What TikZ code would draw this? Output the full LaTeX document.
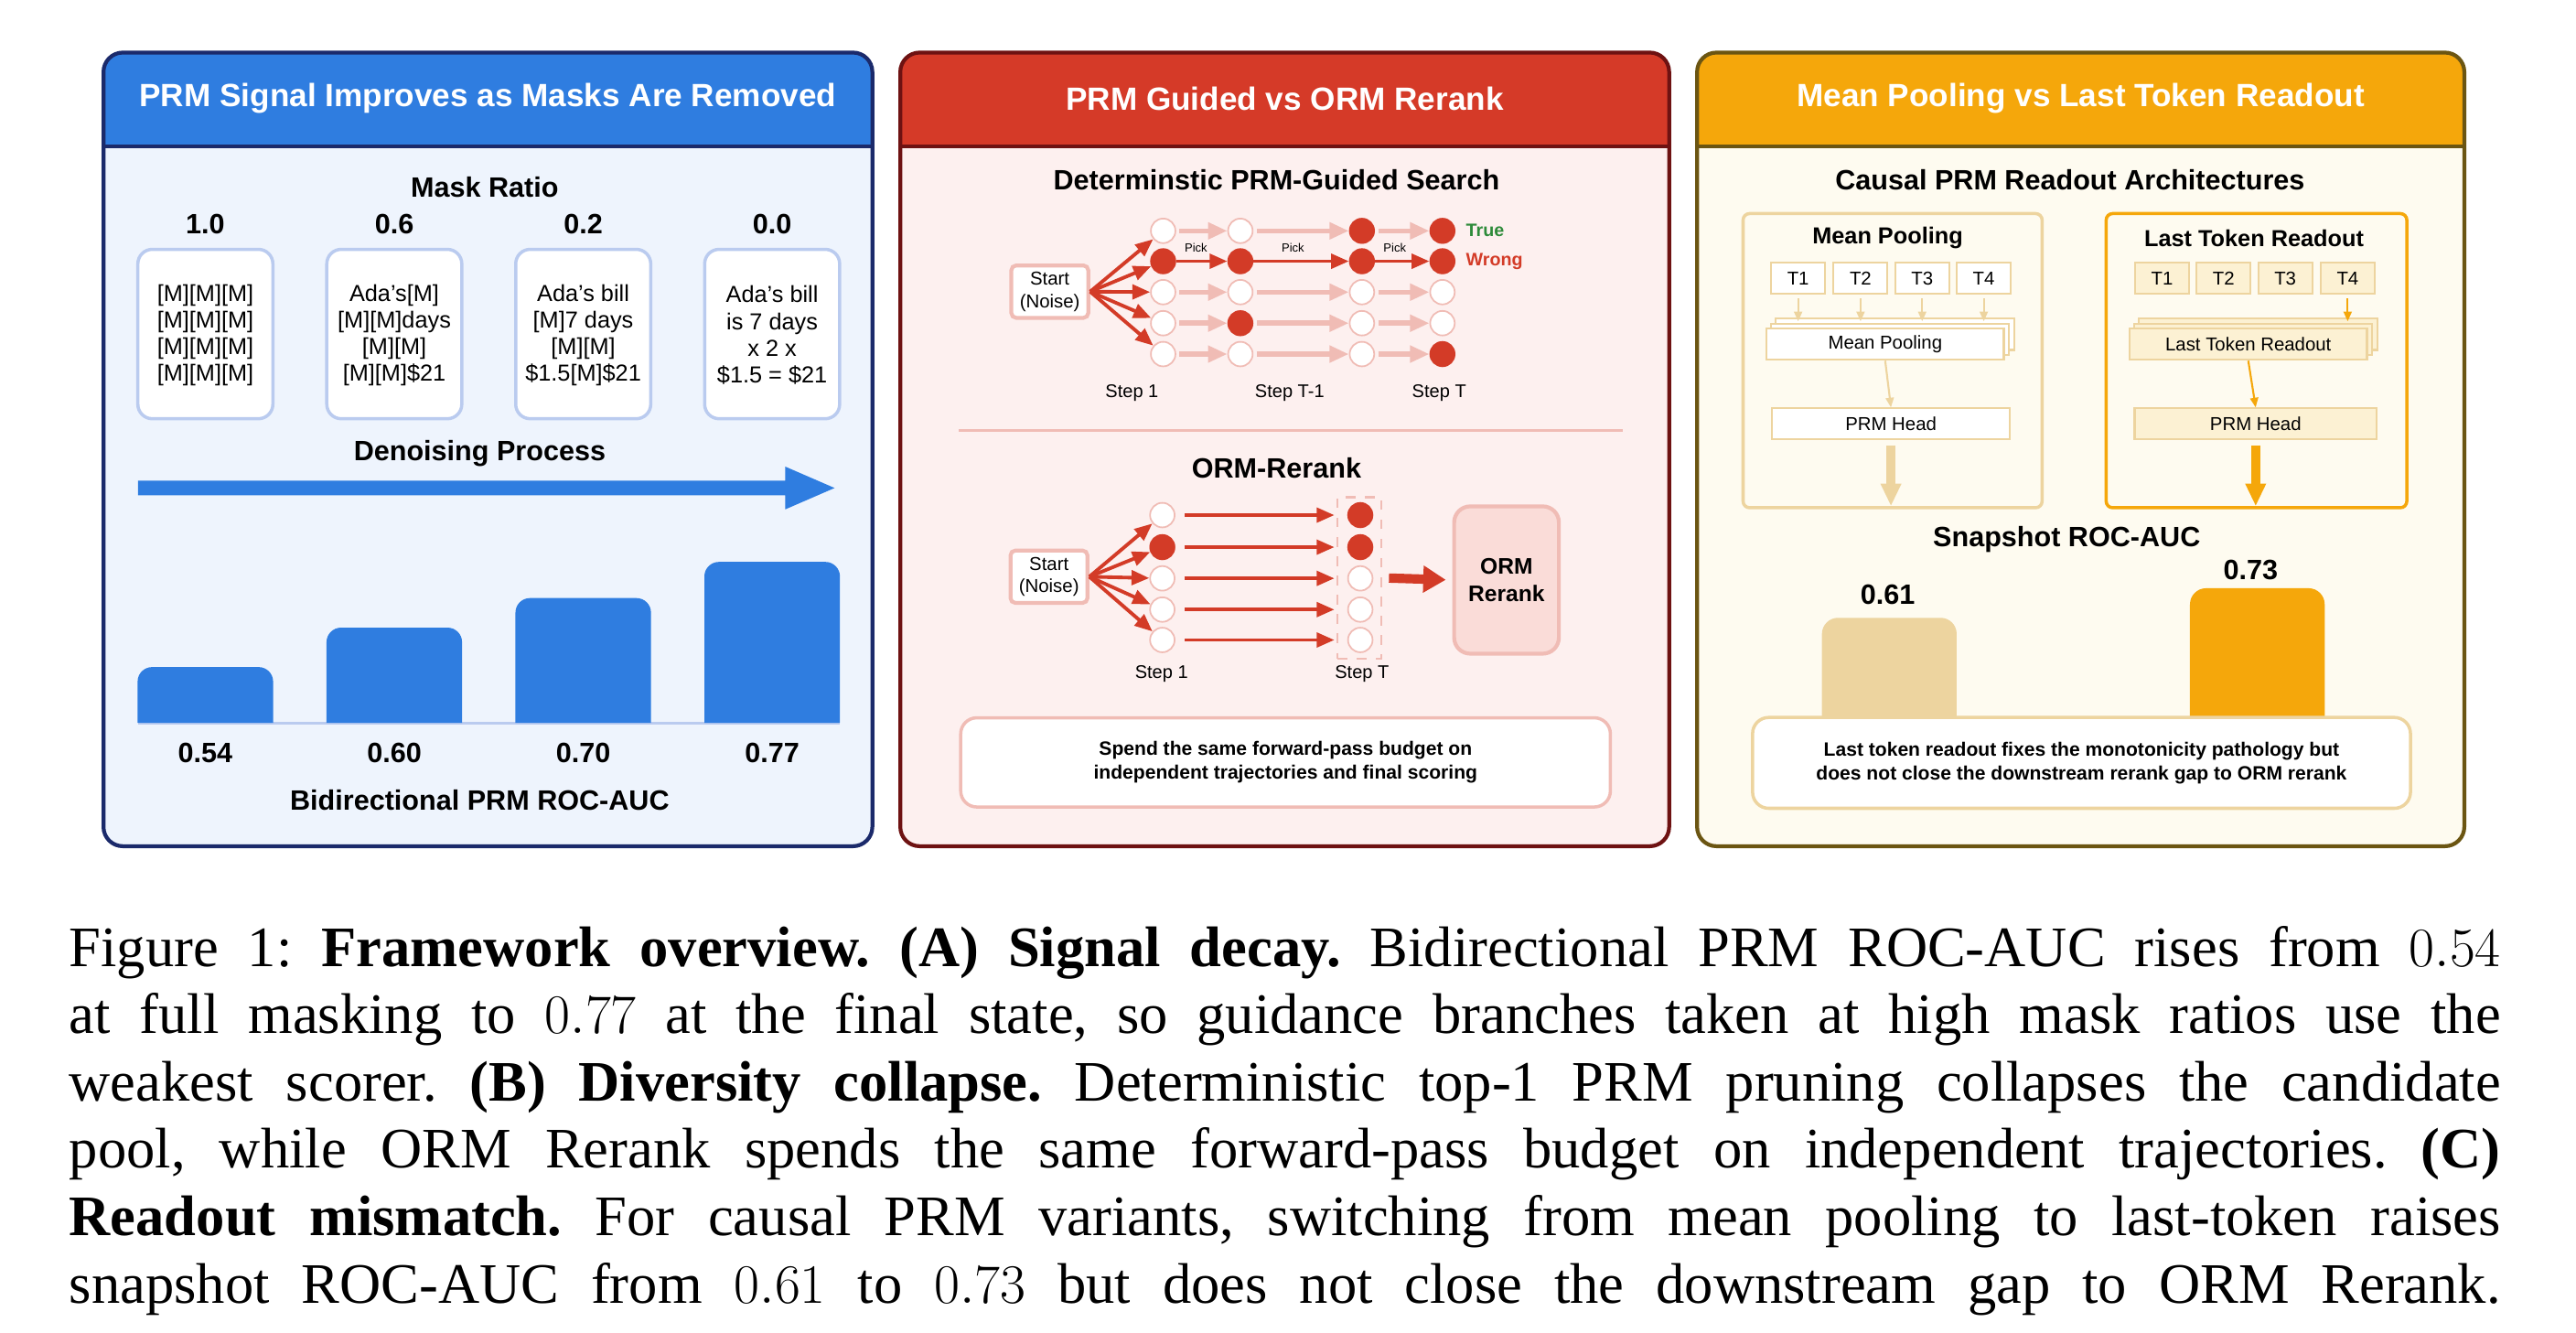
\documentclass[tikz,border=0pt]{standalone}
\usepackage{fontspec}
\setmainfont{Liberation Serif}
\newfontfamily\ar{Liberation Sans}
\usetikzlibrary{arrows.meta}
\definecolor{blueH}{HTML}{2F7DE0}
\definecolor{blueB}{HTML}{EEF4FD}
\definecolor{blueR}{HTML}{1B2A6B}
\definecolor{blueL}{HTML}{BACBEF}
\definecolor{redH}{HTML}{D53A28}
\definecolor{redB}{HTML}{FDF0EF}
\definecolor{redR}{HTML}{6E1212}
\definecolor{pinkL}{HTML}{F0BCB5}
\definecolor{redD}{HTML}{D33B27}
\definecolor{pinkF}{HTML}{FADCD8}
\definecolor{orH}{HTML}{F5A70B}
\definecolor{orB}{HTML}{FEFBF0}
\definecolor{orR}{HTML}{6B5512}
\definecolor{tan}{HTML}{EDD49F}
\definecolor{orF}{HTML}{FCF1D3}
\definecolor{grn}{HTML}{2E8B3A}
\newcommand\mkfont[3]{\ar#1\fontsize{#2}{#3}\selectfont}
\tikzset{
  ttl/.style={text=white,font=\mkfont{\bfseries}{10}{12}},
  sub/.style={font=\mkfont{\bfseries}{8.7}{10.5}},
  boxtxt/.style={align=center,font=\mkfont{}{7.2}{8.3}},
  mbox/.style={draw=blueL,line width=1pt,fill=white,rounded corners=4.5pt,minimum width=82.5*0.509pt,minimum height=103.5*0.509pt,inner sep=0},
  sm/.style={font=\mkfont{}{5.7}{6.8}},
  pick/.style={font=\mkfont{}{3.7}{4.4}},
  dot/.style={circle,minimum size=15*0.509pt,inner sep=0,line width=0.5pt,draw=pinkL,fill=white},
  fdot/.style={circle,minimum size=15*0.509pt,inner sep=0,draw=redD,fill=redD},
  startb/.style={draw=pinkL,fill=white,line width=1.2pt,rounded corners=1.5pt,minimum width=47*0.509pt,minimum height=32*0.509pt,inner sep=0,align=center,font=\mkfont{}{5.8}{7}},
  darr/.style={draw=redD,line width=1.1pt,-{Triangle[length=5.5pt,width=4.5pt]}},
  larr/.style={draw=pinkL,line width=1.6pt,-{Triangle[length=6pt,width=5pt]}},
  note/.style={draw=#1,fill=white,line width=1pt,rounded corners=5pt,minimum width=397*0.509pt,minimum height=54.5*0.509pt,inner sep=0,align=center,font=\mkfont{\bfseries}{6}{7.5}},
  tok/.style={draw=tan,line width=0.6pt,minimum width=33*0.509pt,minimum height=19*0.509pt,inner sep=0,font=\mkfont{}{5.8}{7}},
  wbox/.style={draw=tan,line width=0.6pt,minimum height=19*0.509pt,inner sep=0,font=\mkfont{}{5.8}{7}},
  tarr/.style={draw=tan,line width=0.6pt,-{Triangle[length=3pt,width=2.5pt]}},
  oarr/.style={draw=orH,line width=0.6pt,-{Triangle[length=3pt,width=2.5pt]}},
}
\newcommand\panel[7]{%
  \fill[#4,rounded corners=6pt] (#1,32) rectangle (#2,515);
  \fill[#3] (#1,89) [rounded corners=6pt]-- (#1,32) -- (#2,32) [sharp corners]-- (#2,89) -- cycle;
  \draw[#5,line width=1.2pt] (#1,89) -- (#2,89);
  \draw[#5,line width=1.2pt,rounded corners=6pt] (#1,32) rectangle (#2,515);
  \node[ttl] (#7) at ({(#1+#2)/2},60) {#6};}
\begin{document}
\begin{tikzpicture}[x=0.01796cm,y=-0.01796cm]
\useasboundingbox[fill=white] (0,0) rectangle (1568,811);
%% ---------- Panel A
\panel{63}{531}{blueH}{blueB}{blueR}{PRM Signal Improves as Masks Are Removed}{tA}
\node[sub] (mr) at (295,114) {Mask Ratio};
\foreach \x/\v [count=\i] in {125/1.0,240/0.6,355/0.2,470/0.0}{
  \node[sub] (r\i) at (\x,136.5) {\v};
  \node[mbox] (b\i) at (\x,203.3) {};
}
\node[boxtxt] (bt1) at (125,204) {{[}M{]}{[}M{]}{[}M{]}\\{[}M{]}{[}M{]}{[}M{]}\\{[}M{]}{[}M{]}{[}M{]}\\{[}M{]}{[}M{]}{[}M{]}};
\node[boxtxt] (bt2) at (240,204) {Ada’s{[}M{]}\\{[}M{]}{[}M{]}days\\{[}M{]}{[}M{]}\\{[}M{]}{[}M{]}\$21};
\node[boxtxt] (bt3) at (355,204) {Ada’s bill\\{[}M{]}7 days\\{[}M{]}{[}M{]}\\\$1.5{[}M{]}\$21};
\node[boxtxt] (bt4) at (470,204) {Ada’s bill\\is 7 days\\x 2 x\\\$1.5 = \$21};
\node[sub] (dp) at (292,276) {Denoising Process};
\fill[blueH] (84,292.5) -- (478,292.5) -- (478,284) -- (508,297) -- (478,310) -- (478,301.5) -- (84,301.5) -- cycle;
\draw[blueL,line width=0.8pt] (84,440) -- (511,440);
\foreach \x/\top/\v [count=\i] in {125/406/0.54,240/382/0.60,355/364/0.70,470/342/0.77}{
  \fill[blueH] (\x-41.25,440) [rounded corners=4.5pt]-- (\x-41.25,\top) -- (\x+41.25,\top) [sharp corners]-- (\x+41.25,440) -- cycle;
  \node[sub] (v\i) at (\x,458) {\v};
}
\node[sub] (xa) at (292,487) {Bidirectional PRM ROC-AUC};
%% ---------- Panel B
\panel{548}{1016}{redH}{redB}{redR}{PRM Guided vs ORM Rerank}{tB}
\node[sub] (sb1) at (777,109.5) {Determinstic PRM-Guided Search};
\node[startb] (s1) at (639,177.5) {Start\\(Noise)};
\foreach \r/\y in {1/140.5,2/159,3/177.8,4/196.7,5/215.5}{
  \foreach \c/\x in {1/708,2/755,3/829,4/878}{
    \node[dot] (g\r\c) at (\x,\y) {};
  }
}
\foreach \n in {g21,g22,g42,g13,g23,g14,g24,g54}{\node[fdot] at (\n) {};}
\foreach \r in {1,...,5}{\draw[darr] (s1.east) -- (g\r1);}
\foreach \r in {1,3,4,5}{
  \draw[larr,shorten <=1pt] (g\r1) -- (g\r2);
  \draw[larr,shorten <=1pt] (g\r2) -- (g\r3);
  \draw[larr,shorten <=1pt] (g\r3) -- (g\r4);
}
\draw[darr] (g21) -- (g22);
\draw[darr] (g22) -- (g23);
\draw[darr] (g23) -- (g24);
\node[pick] (p1) at (728,151) {Pick};
\node[pick] (p2) at (787,151) {Pick};
\node[pick] (p3) at (849,151) {Pick};
\node[anchor=west,inner sep=0,text=grn,font=\mkfont{\bfseries}{5.6}{6.7}] (tr) at (892,140.5) {True};
\node[anchor=west,inner sep=0,text=redD,font=\mkfont{\bfseries}{5.6}{6.7}] (wr) at (892,159) {Wrong};
\node[sm] (st1) at (689,239) {Step 1};
\node[sm] (st2) at (785,239) {Step T-1};
\node[sm] (st3) at (876,239) {Step T};
\coordinate (sepL) at (583.5,262);
\coordinate (sepR) at (988,262);
\draw[pinkL,line width=0.8pt] (sepL) -- (sepR);
\node[sub] (sb2) at (777,285) {ORM-Rerank};
\node[startb] (s2) at (638.5,351) {Start\\(Noise)};
\foreach \r/\y in {1/313.5,2/333,3/352,4/371,5/389.5}{
  \node[dot] (o\r1) at (707.5,\y) {};
  \node[dot] (o\r2) at (828,\y) {};
  \draw[darr] (s2.east) -- (o\r1);
  \draw[darr,shorten <=3pt,shorten >=4pt] (o\r1) -- (o\r2);
}
\node[fdot] at (o21) {};
\node[fdot] at (o12) {};
\node[fdot] at (o22) {};
\node[draw=pinkL,dashed,line width=0.6pt,minimum width=27*0.509pt,minimum height=98.5*0.509pt,inner sep=0] (dbox) at (827.5,351.7) {};
\node[draw=pinkL,fill=pinkF,line width=1.2pt,rounded corners=5pt,minimum width=64*0.509pt,minimum height=90*0.509pt,inner sep=0,align=center,font=\mkfont{\bfseries}{7}{8.4}] (orm) at (917,353) {ORM\\Rerank};
\draw[redD,line width=2.9pt,-{Triangle[length=7pt,width=8pt]},shorten <=2pt,shorten >=2pt] (dbox.east) -- (orm.west);
\node[sm] (st4) at (707,410) {Step 1};
\node[sm] (st5) at (829,410) {Step T};
\node[note=pinkL] (nb) at (782.5,464) {Spend the same forward-pass budget on\\independent trajectories and final scoring};
%% ---------- Panel C
\panel{1033}{1500}{orH}{orB}{orR}{Mean Pooling vs Last Token Readout}{tC}
\node[sub] (sc1) at (1260,109.5) {Causal PRM Readout Architectures};
\draw[tan,line width=1pt,rounded corners=2pt] (1061,130) rectangle (1243,309);
\node[font=\mkfont{\bfseries}{7.2}{8.6}] (mpt) at (1149,145) {Mean Pooling};
\foreach \x [count=\i] in {1094.5,1132.5,1170,1207.5}{
  \node[tok,fill=white] (m\i) at (\x,169.5) {T\i};
}
\fill[white] (1081,194) rectangle (1226,213); \draw[tan,line width=0.6pt] (1081,194) rectangle (1226,213);
\fill[white] (1078,197) rectangle (1223,216); \draw[tan,line width=0.6pt] (1078,197) rectangle (1223,216);
\node[wbox,fill=white,minimum width=145*0.509pt] (mp) at (1147.5,209.5) {Mean Pooling};
\foreach \i in {1,...,4}{\draw[tarr] (m\i.south) ++(0,2) -- ++(0,14);}
\node[wbox,fill=white,minimum width=145*0.509pt] (mh) at (1151,258) {PRM Head};
\draw[tarr] (mp.south) -- (mh.north);
\draw[tan,line width=2.9pt,-{Triangle[length=7pt,width=6pt]}] (mh.south) ++(0,3) -- ++(0,37) coordinate (me);
\draw[orH,line width=1pt,rounded corners=2pt] (1282,130) rectangle (1465,309);
\node[font=\mkfont{\bfseries}{7.2}{8.6}] (ltt) at (1372,145) {Last Token Readout};
\foreach \x [count=\i] in {1316,1353.5,1391,1429}{
  \node[tok,fill=orF,draw=tan] (l\i) at (\x,169.5) {T\i};
}
\fill[orF] (1302,194) rectangle (1447,213); \draw[tan,line width=0.6pt] (1302,194) rectangle (1447,213);
\fill[orF] (1299,197) rectangle (1444,216); \draw[tan,line width=0.6pt] (1299,197) rectangle (1444,216);
\node[wbox,fill=orF,minimum width=145*0.509pt] (lp) at (1368.5,209.5) {Last Token Readout};
\draw[oarr] (l4.south) ++(0,2) -- ++(0,14);
\node[wbox,fill=orF,minimum width=148*0.509pt] (lh) at (1373,258) {PRM Head};
\draw[oarr] (lp.south) -- (lh.north);
\draw[orH,line width=2.9pt,-{Triangle[length=7pt,width=6pt]}] (lh.south) ++(0,3) -- ++(0,37) coordinate (le);
\node[sub] (sc2) at (1258,328.5) {Snapshot ROC-AUC};
\fill[tan] (1109,445) [rounded corners=5pt]-- (1109,376) -- (1191,376) [sharp corners]-- (1191,445) -- cycle;
\fill[orH] (1333,445) [rounded corners=5pt]-- (1333,358) -- (1415,358) [sharp corners]-- (1415,445) -- cycle;
\node[sub] (c1) at (1149,362) {0.61};
\node[sub] (c2) at (1370,347) {0.73};
\node[note=tan,minimum width=402*0.509pt,minimum height=55.5*0.509pt] (nc) at (1267,464.3) {Last token readout fixes the monotonicity pathology but\\does not close the downstream rerank gap to ORM rerank};
%% ---------- Caption
\node[anchor=base west,inner sep=0] (cap) at (41.8,588) {\parbox[t]{26.58cm}{\fontsize{17.8}{20.95}\selectfont\frenchspacing\parfillskip=0pt
Figure 1: \textbf{Framework overview. (A) Signal decay.} Bidirectional PRM ROC-AUC rises from $0.54$\linebreak
at full masking to $0.77$ at the final state, so guidance branches taken at high mask ratios use the\linebreak
weakest scorer. \textbf{(B) Diversity collapse.} Deterministic top-1 PRM pruning collapses the candidate\linebreak
pool, while ORM Rerank spends the same forward-pass budget on independent trajectories. \textbf{(C)}\linebreak
\textbf{Readout mismatch.} For causal PRM variants, switching from mean pooling to last-token raises\linebreak
snapshot ROC-AUC from $0.61$ to $0.73$ but does not close the downstream gap to ORM Rerank.\par}};
\end{tikzpicture}
\end{document}
